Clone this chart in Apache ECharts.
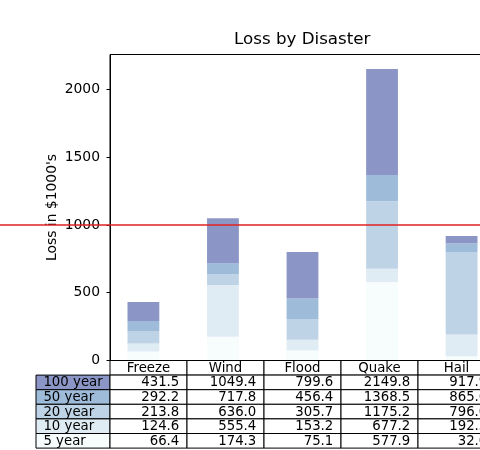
<!DOCTYPE html>
<html>
<head>
<meta charset="utf-8">
<script src="https://cdn.jsdelivr.net/npm/echarts@6/dist/echarts.min.js"></script>
<style>
  html, body { margin: 0; padding: 0; background: #fff; }
  #chart { width: 480px; height: 450px; }
</style>
</head>
<body>
<div id="chart"></div>
<script type="text/javascript">
// data, loss in $1000's (cumulative, as printed in the table)
var columns = ['Freeze', 'Wind', 'Flood', 'Quake', 'Hail'];
var rowLabels = ['100 year', '50 year', '20 year', '10 year', '5 year'];
var year100 = [431.5, 1049.4, 799.6, 2149.8, 917.9];
var year50 = [292.2, 717.8, 456.4, 1368.5, 865.6];
var year20 = [213.8, 636.0, 305.7, 1175.2, 796.0];
var year10 = [124.6, 555.4, 153.2, 677.2, 192.5];
var year5 = [66.4, 174.3, 75.1, 577.9, 32.0];
var barX = [0.3, 1.3, 2.3, 3.3, 4.3];
var yTicks = [0, 500, 1000, 1500, 2000];
var refLine = 1000;

var rows = [year100, year50, year20, year10, year5];
var rowColors = ['#8c96c6', '#9ebcda', '#bfd3e6', '#e0ecf4', '#f7fcfd'];
var BAR_W = 0.4;
var LABEL_W = 74 / 77;   // row label column, in data-column widths
var FONT = 'DejaVu Sans';

// bar segments: [x, bottom, top], colour by row
var segments = [];
for (var r = rows.length - 1; r >= 0; r--) {
  for (var c = 0; c < columns.length; c++) {
    var bottom = r === rows.length - 1 ? 0 : rows[r + 1][c];
    segments.push({ value: [barX[c], bottom, rows[r][c]], color: rowColors[r] });
  }
}

// table cells
var cells = [];
columns.forEach(function (name, c) {
  cells.push({ x0: c, x1: c + 1, row: 0, text: name, align: 'center', fill: '#fff' });
});
rows.forEach(function (vals, r) {
  cells.push({ x0: -LABEL_W, x1: 0, row: r + 1, text: rowLabels[r], align: 'left', fill: rowColors[r] });
  vals.forEach(function (v, c) {
    cells.push({ x0: c, x1: c + 1, row: r + 1, text: v.toFixed(1), align: 'right', fill: '#fff' });
  });
});

var chart = echarts.init(document.getElementById('chart'));

var option = {
  animation: false,
  backgroundColor: '#fff',
  textStyle: { fontFamily: FONT, color: '#000' },
  title: {
    text: 'Loss by Disaster',
    left: 234,
    top: 31,
    padding: 0,
    textStyle: { fontFamily: FONT, fontSize: 16.7, fontWeight: 'normal', color: '#000' }
  },
  grid: [
    { left: 110, top: 54.5, width: 385, height: 306, outerBoundsMode: 'none', containLabel: false,
      show: true, borderColor: '#000', borderWidth: 1, backgroundColor: 'transparent' },
    { left: 36, top: 360.5, width: 459, height: 87.6, outerBoundsMode: 'none', containLabel: false }
  ],
  xAxis: [
    { gridIndex: 0, type: 'value', min: -0.12, max: 4.72, show: false },
    { gridIndex: 1, type: 'value', min: -LABEL_W, max: 5, show: false }
  ],
  yAxis: [
    {
      gridIndex: 0,
      type: 'value',
      min: 0,
      max: 2257,
      name: "Loss in $1000's",
      nameLocation: 'middle',
      nameGap: 51,
      nameMoveOverlap: false,
      nameTextStyle: { fontFamily: FONT, fontSize: 13.9, color: '#000' },
      axisLine: { show: true, onZero: false, lineStyle: { color: '#000', width: 1 } },
      axisTick: { show: true, length: 3.5, customValues: yTicks, lineStyle: { color: '#000' } },
      axisLabel: {
        customValues: yTicks, margin: 10, fontFamily: FONT, fontSize: 13.9, color: '#000',
        formatter: function (v) { return String(v); }
      },
      splitLine: { show: false }
    },
    { gridIndex: 1, type: 'value', min: 0, max: 6, inverse: true, show: false }
  ],
  series: [
    {
      type: 'custom',
      xAxisIndex: 0,
      yAxisIndex: 0,
      data: segments.map(function (s) { return s.value; }),
      renderItem: function (params, api) {
        var x = api.value(0);
        var p0 = api.coord([x - BAR_W / 2, api.value(2)]);
        var p1 = api.coord([x + BAR_W / 2, api.value(1)]);
        return {
          type: 'rect',
          shape: { x: p0[0], y: p0[1], width: p1[0] - p0[0], height: p1[1] - p0[1] },
          style: { fill: segments[params.dataIndex].color }
        };
      }
    },
    {
      type: 'custom',
      xAxisIndex: 1,
      yAxisIndex: 1,
      data: cells.map(function (cl) { return [cl.x0, cl.row]; }),
      renderItem: function (params, api) {
        var cl = cells[params.dataIndex];
        var p0 = api.coord([cl.x0, cl.row]);
        var p1 = api.coord([cl.x1, cl.row + 1]);
        var w = p1[0] - p0[0], h = p1[1] - p0[1];
        var tx = cl.align === 'left' ? p0[0] + w * 0.1 : cl.align === 'right' ? p0[0] + w * 0.9 : p0[0] + w / 2;
        return {
          type: 'group',
          children: [
            {
              type: 'rect',
              shape: { x: p0[0], y: p0[1], width: w, height: h },
              style: { fill: cl.fill, stroke: '#000', lineWidth: 1 }
            },
            {
              type: 'text',
              z2: 10,
              style: {
                text: cl.text, x: tx, y: p0[1] + h / 2 + 0.5,
                align: cl.align, verticalAlign: 'middle',
                fill: '#000', font: '13.3px "DejaVu Sans"'
              }
            }
          ]
        };
      }
    }
  ]
};
chart.setOption(option);

// red reference line across the whole figure
var yPix = Math.round(chart.convertToPixel({ yAxisIndex: 0 }, refLine));
chart.setOption({
  graphic: [{
    type: 'line', z: 100,
    shape: { x1: 0, y1: yPix, x2: chart.getWidth(), y2: yPix },
    style: { stroke: '#e02020', lineWidth: 1.5 }
  }]
});
</script>
</body>
</html>
